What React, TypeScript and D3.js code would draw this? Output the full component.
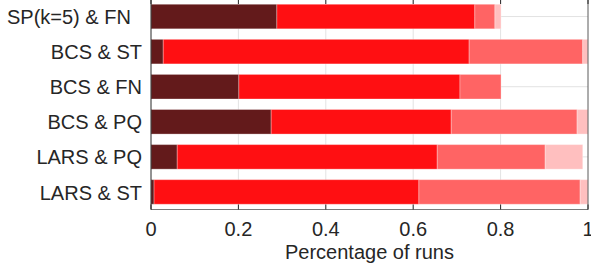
import * as d3 from "d3";
import { useEffect } from "react";

// categories top to bottom
const categories = ["SP(k=5) & FN  ", "BCS & ST", "BCS & FN", "BCS & PQ", "LARS & PQ", "LARS & ST"];
const seriesKeys = ["s1", "s2", "s3", "s4"];
const s1 = [0.288, 0.028, 0.201, 0.275, 0.060, 0.007];
const s2 = [0.453, 0.700, 0.506, 0.412, 0.595, 0.606];
const s3 = [0.046, 0.260, 0.094, 0.288, 0.247, 0.369];
const s4 = [0.014, 0.012, 0.0, 0.025, 0.086, 0.018];
const xTicks = [0, 0.2, 0.4, 0.6, 0.8, 1];
const xLabel = "Percentage of runs";
const colors = ["#631a1b", "#ff0f12", "#ff6464", "#ffbfbf"];

const width = 591;
const height = 271;
const left = 151;
const right = 588;
const top = -1;
const bottom = 209.5;
const font = "'Liberation Sans', Arial, Helvetica, sans-serif";
const axisColor = "#262626";

export default function App() {
  useEffect(() => {
    document.body.style.margin = "0";
  }, []);

  const rows = categories.map((c, i) => ({ cat: c, s1: s1[i], s2: s2[i], s3: s3[i], s4: s4[i] }));
  const stacked = d3.stack().keys(seriesKeys)(rows as any);

  const n = categories.length;
  const x = d3.scaleLinear([0, 1], [left, right]);
  // index 0 is the top category
  const y = d3.scaleLinear([-0.5, n - 0.5], [top, bottom]);
  const barHalf = 0.35;
  const fmt = d3.format("~g");
  const tick = 5;

  return (
    <svg width={width} height={height} style={{ display: "block", fontFamily: font }}>
      <rect x={0} y={0} width={width} height={height} fill="white" />
      {/* grid */}
      <g stroke="#e3e3e3" strokeWidth={1}>
        {xTicks.slice(1, -1).map((t) => (
          <line key={"gx" + t} x1={x(t)} x2={x(t)} y1={top} y2={bottom} />
        ))}
        {categories.map((c, i) => (
          <line key={"gy" + i} x1={left} x2={right} y1={y(i)} y2={y(i)} />
        ))}
      </g>
      {/* bars */}
      {stacked.map((layer, k) => (
        <g key={layer.key} fill={colors[k]}>
          {layer.map((d, i) =>
            d[1] - d[0] > 0 ? (
              <rect
                key={i}
                x={x(d[0])}
                y={y(i - barHalf)}
                width={x(d[1]) - x(d[0])}
                height={y(i + barHalf) - y(i - barHalf)}
                stroke="#ffffff"
                strokeOpacity={0.3}
                strokeWidth={1}
              />
            ) : null
          )}
        </g>
      ))}
      {/* axes box */}
      <g stroke={axisColor} strokeWidth={1} fill="none">
        <line x1={left} x2={right} y1={bottom} y2={bottom} stroke="#7a7a7a" />
        <line x1={left} x2={right} y1={top} y2={top} stroke="#7a7a7a" />
        <line x1={left} x2={left} y1={top} y2={bottom} />
        <line x1={right} x2={right} y1={top} y2={bottom} stroke="#5a5a5a" />
        {xTicks.map((t) => (
          <g key={"t" + t}>
            <line x1={x(t)} x2={x(t)} y1={bottom} y2={bottom - tick} />
            <line x1={x(t)} x2={x(t)} y1={top} y2={top + tick} />
          </g>
        ))}
      </g>
      {/* x tick labels */}
      <g fill={axisColor} fontSize={20} textAnchor="middle">
        {xTicks.map((t) => (
          <text key={"l" + t} x={x(t)} y={235.5}>
            {fmt(t)}
          </text>
        ))}
      </g>
      <text x={(left + right) / 2} y={259} fill={axisColor} fontSize={20} textAnchor="middle">
        {xLabel}
      </text>
      {/* y labels */}
      <g fill={axisColor} fontSize={20} textAnchor="end">
        {categories.map((c, i) => (
          <text key={"c" + i} x={142} y={y(i)} dy="0.38em" style={{ whiteSpace: "pre" }}>
            {c}
          </text>
        ))}
      </g>
    </svg>
  );
}
